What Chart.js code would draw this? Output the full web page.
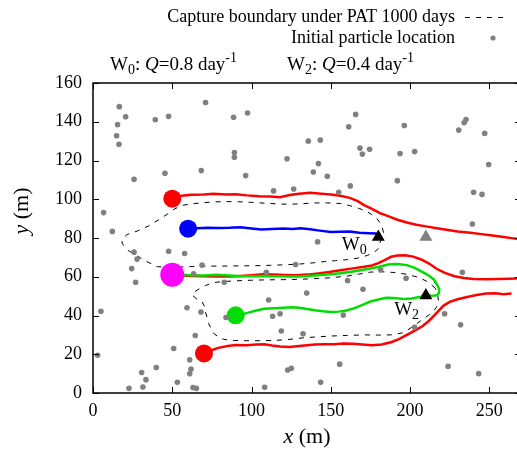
<!DOCTYPE html>
<html>
<head>
<meta charset="utf-8">
<script src="https://cdn.jsdelivr.net/npm/chart.js@4.4.1/dist/chart.umd.min.js"></script>
<style>
  html, body { margin: 0; padding: 0; background: #fff; overflow: hidden; }
  canvas { display: block; }
</style>
</head>
<body>
<canvas id="captureChart" width="521" height="457"></canvas>
<script>
// Axis ticks
const xTicks = [0, 50, 100, 150, 200, 250];
const yTicks = [0, 20, 40, 60, 80, 100, 120, 140, 160];

// Initial particle locations (grey dots)
const particles = [
    [16.6, 147.8], [20.6, 142.6], [39.3, 141], [47.7, 142.8], [71, 149.9], [88.7, 142.3],
    [15.5, 138.5], [14.9, 132.8], [16.4, 128.4], [89.2, 124.1], [89.2, 121.7], [45.4, 113.4],
    [68.3, 114.8], [25.9, 110.3], [6.7, 93.1], [12.2, 83.4], [97.5, 144.5], [165.7, 143.8],
    [161.3, 137.4], [135.8, 130], [143.4, 130.5], [122.4, 120.9], [142.2, 118.4], [139, 114.1],
    [147.8, 111.9], [168.4, 126.4], [169.9, 123.3], [174.5, 125.8], [96.3, 112.2], [113.9, 104.3],
    [126.6, 105.3], [162.3, 106.9], [155, 103.6], [196.4, 138.1], [235.3, 141.1], [234.1, 139.5],
    [230.7, 135.7], [247.1, 134], [193.7, 123.6], [202.9, 124.6], [249.6, 117.9], [192, 109.6],
    [240.1, 103.6], [245.4, 102.5], [239.3, 87.2], [25.9, 72.7], [27.8, 69.1], [24.4, 64.2],
    [26.9, 57.2], [47.7, 73.2], [57.8, 72], [68.8, 66], [63.5, 61.5], [82.8, 57.2],
    [5, 42.2], [59.3, 44], [68.1, 41.8], [83.9, 39], [64.5, 29.7], [2.9, 19.5],
    [50.9, 23], [61, 17.1], [61.8, 12.3], [61, 9.9], [39.9, 13.2], [30.7, 10.6],
    [33.4, 6.9], [53.2, 5.5], [22.7, 2.4], [31.5, 3.1], [63.1, 2.8], [65.2, 2.4],
    [141.7, 78], [127.8, 66.3], [109.3, 62.3], [160.6, 58], [170.3, 53.5], [134.8, 51.6],
    [110.8, 48], [113.3, 39.6], [118, 40.9], [157.9, 40.2], [118.8, 32], [132.5, 30.6],
    [125.1, 12.8], [122.8, 11.9], [155.6, 14.9], [143.6, 5.5], [108.3, 3], [181.5, 63.5],
    [197.5, 59.2], [233, 62.3], [221.8, 40.9], [231.9, 35.2], [202.9, 33.9], [224, 13.8],
    [243.3, 10]
];

// Particle paths
const pathTopRed = [
    [50, 101.5], [56, 101.8], [62, 102.3], [70, 102.5], [76, 102.8], [84, 102.4], [90, 102.6],
    [97, 102], [105, 101.6], [112, 101.4], [118, 101], [124, 102.2], [130, 102.8], [137, 103.3],
    [144, 102.9], [150, 102.4], [156, 101.8], [162, 100.7], [167, 99], [171, 97], [176, 95],
    [181, 92.8], [187, 91], [192, 89.4], [198, 88], [204, 86.8], [210, 86], [216, 85.2],
    [222, 84.4], [230, 83.4], [238, 82.7], [245, 82], [252, 81.3], [259, 80.5], [265, 79.8], [270, 79.3]
];
const pathBlue = [
    [60, 85], [66, 85], [72, 85.3], [80, 85.2], [86, 85.3], [93, 85.6], [100, 84.9], [106, 84.4],
    [113, 84.6], [120, 84.9], [126, 84.6], [131, 85], [137, 84.5], [143, 83.8], [150, 83.1],
    [156, 83.2], [162, 83.3], [168, 82.7], [174, 82.5], [179, 82.3]
];
const pathMidRed = [
    [50, 61], [56, 60.6], [62, 60.4], [70, 60.3], [78, 60.1], [86, 60.1], [93, 60.4], [100, 60.8],
    [107, 61.3], [114, 61.1], [121, 60.9], [128, 60.8], [135, 61.1], [142, 61.7], [149, 62.4],
    [156, 63.3], [163, 64.2], [170, 65], [176, 65.8], [180, 67], [184, 68.6], [188, 70.3], [192, 71],
    [197, 71.1], [202, 70.4], [207, 68.9], [212, 66.8], [217, 64], [222, 62], [228, 60.3],
    [234, 59.4], [240, 58.9], [248, 58.7], [256, 58.8], [263, 59], [270, 59.2]
];
const pathUpperGreen = [
    [50, 61.3], [56, 61], [62, 60.8], [70, 60.6], [78, 61], [86, 60.6], [93, 60.3], [100, 60.3],
    [108, 60.4], [116, 60.2], [124, 60.1], [130, 60.1], [137, 60.5], [144, 60.9], [150, 61.3],
    [156, 61.8], [162, 62.4], [168, 63.2], [174, 64.1], [180, 65], [186, 66.3], [192, 66.6],
    [198, 66], [203, 64.6], [208, 62.4], [212, 60.5], [215, 58.6], [217, 56], [218.5, 53.5],
    [218, 51.2], [216, 50.3], [212, 50.2]
];
const pathLowerGreen = [
    [90, 40], [94, 40.6], [98, 41.5], [103, 42.6], [108, 43.5], [114, 43.8], [120, 44], [126, 44.2],
    [130, 44], [135, 43.3], [140, 42.7], [145, 42.2], [150, 41.8], [155, 42], [160, 42.6],
    [165, 43.8], [170, 45.5], [175, 47.2], [180, 48.3], [185, 49.1], [190, 49], [196, 48.5],
    [201, 48.8], [206, 49.5], [210, 50.3]
];
const pathBottomRed = [
    [70, 20.5], [74, 21.8], [79, 23.3], [85, 24.3], [90, 24.8], [97, 24.7], [103, 25], [108, 25.1],
    [113, 24.5], [118, 24], [124, 23.7], [130, 24.2], [135, 24.7], [140, 25], [146, 25.1],
    [152, 25.2], [158, 25.5], [164, 25.4], [170, 25], [176, 24.6], [182, 25], [188, 26.2],
    [193, 27.8], [198, 30], [203, 32.2], [208, 34.6], [212, 37.3], [215, 39.8], [218, 42.4],
    [221, 45], [225, 47], [230, 48.4], [236, 49.5], [242, 50.6], [248, 51.3], [254, 51.5],
    [259, 51], [264, 51.3]
];

// Capture boundaries (dashed)
const boundaryW0 = [
    [181, 77.5], [183.5, 82], [182, 87], [178, 91], [173, 93.6], [168, 95.2], [162, 96.7],
    [156, 97.8], [148, 98.1], [140, 98.1], [132, 97.7], [124, 97.4], [116, 97.6], [108, 98],
    [100, 98.4], [92, 98.7], [84, 98.8], [76, 98.6], [69, 98.2], [62, 97.6], [56, 96.8],
    [51, 94.8], [46.7, 92.2], [41, 89.2], [35, 86.2], [28, 83.6], [21.5, 81.8], [18.5, 79.5],
    [18.3, 77.4], [20, 75.5], [22.5, 73.4], [28, 70.7], [34, 67.8], [40.5, 65.2], [47, 64.9],
    [55, 65], [63, 65.3], [72, 65.5], [82, 65.5], [92, 65.6], [102, 65.7], [112, 65.9],
    [122, 66.2], [131, 66.6], [139, 67.2], [146, 67.8], [153, 68.3], [160, 68.8], [167, 69.6],
    [173, 71], [177, 72.4], [180, 74.5], [181, 77.5]
];
const boundaryW2 = [
    [216, 54], [212, 57], [206, 59.5], [198, 61.3], [190, 62.2], [182, 62.6], [175, 62.4],
    [168, 61.4], [160, 60.3], [150, 59.5], [140, 59], [130, 58.7], [120, 58.5], [110, 58.4],
    [100, 58.2], [90, 57.9], [82, 57.5], [76, 57], [71, 55.5], [67.5, 54], [64, 52.2],
    [62.5, 50.6], [65, 48.8], [68.8, 47.1], [70.5, 44.5], [70.9, 41.9], [72, 38.8], [72.9, 35.9],
    [74.5, 33.2], [76.1, 30.8], [79, 29], [82.4, 27.7], [88, 27.1], [96, 27], [105, 27],
    [114, 27.1], [123, 27.6], [133, 28.5], [142, 29], [150, 29.4], [160, 29.7], [171, 30],
    [180, 29.9], [188, 30], [196, 31.1], [202, 34.5], [208, 38], [213.9, 41.4], [216.5, 44],
    [218, 47], [217.5, 50.5], [216, 54]
];

// Release points and wells
const startRed = [[50, 100.3], [70, 20.4]];
const startBlue = [[60, 84.8]];
const startMagenta = [[50, 61]];
const startGreen = [[90, 40.1]];
const wellsActive = [[180, 80.5], [210, 50.3]];
const wellIdle = [[210, 80.5]];

const toXY = arr => arr.map(p => ({ x: p[0], y: p[1] }));

const SERIF = '"Liberation Serif", "Times New Roman", serif';
const font = (size, style) => (style ? style + ' ' : '') + size + 'px ' + SERIF;

// draw a run of text pieces [text, font, dy] starting at x
function drawRich(ctx, parts, x, y, align) {
    let w = 0;
    parts.forEach(p => { ctx.font = p[1]; w += ctx.measureText(p[0]).width; });
    let cx = align === 'right' ? x - w : (align === 'center' ? x - w / 2 : x);
    parts.forEach(p => {
        ctx.font = p[1];
        ctx.fillText(p[0], cx, y + (p[2] || 0));
        cx += ctx.measureText(p[0]).width;
    });
}

const framePlugin = {
    id: 'frameAndText',
    afterDraw(chart) {
        const ctx = chart.ctx;
        const { left, right, top, bottom } = chart.chartArea;
        const xs = chart.scales.x, ys = chart.scales.y;
        ctx.save();
        ctx.strokeStyle = '#000';
        ctx.lineWidth = 1.5;
        ctx.strokeRect(left, top, right - left, bottom - top);
        ctx.lineWidth = 1;
        ctx.beginPath();
        xTicks.forEach(v => {
            const px = Math.round(xs.getPixelForValue(v)) + 0.5;
            ctx.moveTo(px, bottom); ctx.lineTo(px, bottom - 6);
            ctx.moveTo(px, top); ctx.lineTo(px, top + 6);
        });
        yTicks.forEach(v => {
            const py = Math.round(ys.getPixelForValue(v)) + 0.5;
            ctx.moveTo(left, py); ctx.lineTo(left + 6, py);
            ctx.moveTo(right, py); ctx.lineTo(right - 6, py);
        });
        ctx.stroke();

        ctx.fillStyle = '#000';
        ctx.textBaseline = 'alphabetic';

        // key
        drawRich(ctx, [['Capture boundary under PAT 1000 days', font(18)]], 455, 22, 'right');
        drawRich(ctx, [['Initial particle location', font(18)]], 455, 43, 'right');
        ctx.setLineDash([5, 6]);
        ctx.beginPath();
        ctx.moveTo(465, 17.5); ctx.lineTo(506, 17.5);
        ctx.stroke();
        ctx.setLineDash([]);
        ctx.fillStyle = '#808080';
        ctx.beginPath();
        ctx.arc(493, 38, 2.6, 0, Math.PI * 2);
        ctx.fill();

        // well rates
        ctx.fillStyle = '#000';
        drawRich(ctx, [['W', font(19)], ['0', font(14), 4], [': ', font(19)], ['Q', font(19, 'italic')],
            ['=0.8 day', font(19)], ['-1', font(14), -8]], 110, 70, 'left');
        drawRich(ctx, [['W', font(19)], ['2', font(14), 4], [': ', font(19)], ['Q', font(19, 'italic')],
            ['=0.4 day', font(19)], ['-1', font(14), -8]], 287, 70, 'left');

        // well labels inside plot
        drawRich(ctx, [['W', font(19)], ['0', font(14), 4]], xs.getPixelForValue(157), ys.getPixelForValue(73.7), 'left');
        drawRich(ctx, [['W', font(19)], ['2', font(14), 4]], xs.getPixelForValue(190), ys.getPixelForValue(40.2), 'left');

        // axis titles
        drawRich(ctx, [['x', font(22, 'italic')], [' (m)', font(22)]], 307, 443, 'center');
        ctx.translate(28, 211);
        ctx.rotate(-Math.PI / 2);
        drawRich(ctx, [['y', font(22, 'italic')], [' (m)', font(22)]], 0, 0, 'center');
        ctx.restore();
    }
};

const lineSet = (data, color, order) => ({
    data: toXY(data), showLine: true, borderColor: color, borderWidth: 2.5,
    pointRadius: 0, fill: false, order: order
});
const dashSet = (data) => ({
    data: toXY(data), showLine: true, borderColor: '#000', borderWidth: 1,
    borderDash: [5, 6], pointRadius: 0, fill: false, order: 5
});
const markSet = (data, color, radius, style) => ({
    data: toXY(data), showLine: false, pointStyle: style || 'circle', pointRadius: radius,
    pointHoverRadius: radius, backgroundColor: color, borderColor: color, borderWidth: 0, order: 1
});

const ctx = document.getElementById('captureChart').getContext('2d');
const captureChart = new Chart(ctx, {
    type: 'scatter',
    data: {
        datasets: [
            markSet(particles, '#808080', 2.8),
            dashSet(boundaryW0),
            dashSet(boundaryW2),
            lineSet(pathTopRed, '#ff0000', 3),
            lineSet(pathBlue, '#0000ff', 3),
            lineSet(pathMidRed, '#ff0000', 3),
            lineSet(pathBottomRed, '#ff0000', 3),
            lineSet(pathUpperGreen, '#00dd00', 2),
            lineSet(pathLowerGreen, '#00dd00', 2),
            markSet(startRed, '#ff0000', 9),
            markSet(startBlue, '#0000ff', 9),
            markSet(startGreen, '#00dd00', 9),
            markSet(startMagenta, '#ff00ff', 12),
            markSet(wellIdle, '#808080', 7.5, 'triangle'),
            markSet(wellsActive, '#000000', 7.5, 'triangle')
        ]
    },
    options: {
        responsive: false,
        animation: false,
        devicePixelRatio: 1,
        layout: { autoPadding: false, padding: { top: 83, left: 0, right: 0, bottom: 0 } },
        plugins: {
            legend: { display: false },
            tooltip: { enabled: false }
        },
        scales: {
            x: {
                type: 'linear', min: 0, max: 270,
                afterBuildTicks: scale => { scale.ticks = xTicks.map(v => ({ value: v })); },
                afterFit: scale => {
                    scale.height = 64;
                    scale.paddingLeft = 0;
                    scale.paddingRight = 0;
                },
                grid: { display: false, drawTicks: false },
                border: { display: false },
                ticks: { padding: 7, color: '#000', font: { family: SERIF, size: 18 } }
            },
            y: {
                type: 'linear', min: 0, max: 160,
                afterBuildTicks: scale => { scale.ticks = yTicks.map(v => ({ value: v })); },
                afterFit: scale => {
                    scale.width = 93;
                    scale.paddingTop = 0;
                    scale.paddingBottom = 0;
                },
                grid: { display: false, drawTicks: false },
                border: { display: false },
                ticks: { padding: 11, color: '#000', font: { family: SERIF, size: 18 } }
            }
        }
    },
    plugins: [framePlugin]
});
</script>
</body>
</html>
